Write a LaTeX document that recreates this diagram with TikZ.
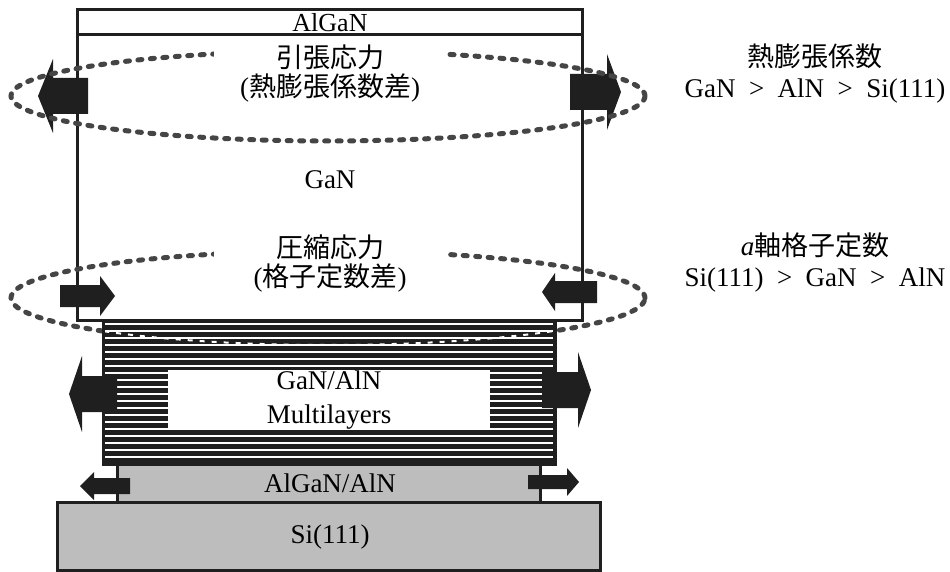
\documentclass[tikz,border=0pt]{standalone}
\usepackage{fontspec}
\setmainfont{Liberation Serif}
\newfontfamily\cjk{Noto Sans CJK JP}
\definecolor{ink}{gray}{0.12}
\definecolor{dotc}{gray}{0.27}
\definecolor{stip}{gray}{0.74}
\newcommand\blockarrow[6]{% tail, base, tip, y, bodyhalf, headhalf
  \fill[ink] (#1,#4-#5) -- (#2,#4-#5) -- (#2,#4-#6) -- (#3,#4) -- (#2,#4+#6) -- (#2,#4+#5) -- (#1,#4+#5) -- cycle;}
\tikzset{
  lab/.style={font=\fontsize{27}{29}\selectfont, inner sep=0pt, align=center},
  gaplab/.style={lab, fill=white, minimum width=232pt, minimum height=64pt},
  rlab/.style={font=\fontsize{27}{31}\selectfont, inner sep=0pt, align=center},
  dots/.style={draw=dotc, line width=5pt, line cap=round, dash pattern=on 4pt off 8.5pt},
  wdots/.style={draw=white, line width=2pt, dash pattern=on 5pt off 7pt},
  frame/.style={draw=ink, line width=3pt},
}
\begin{document}
\begin{tikzpicture}[x=1pt,y=-1pt]
\useasboundingbox (0,0) rectangle (950,572);
% GaN box with AlGaN cap
\draw[frame, fill=white] (77,10) rectangle (582,320);
\draw[frame] (77,35) -- (582,35);
\node[lab, font=\fontsize{26}{28}\selectfont] (algan) at (330,23) {AlGaN};
\node[lab] (gan) at (330,180) {GaN};
% tensile / compressive arrows in GaN
\blockarrow{88}{53}{38}{96}{18}{37}
\blockarrow{570}{607}{621}{92}{18}{38}
\blockarrow{60}{100}{115}{296}{11}{20}
\blockarrow{597}{555}{542}{292}{11}{19}
% stress ellipses
\draw[dots] (328,96) ellipse [x radius=317pt, y radius=45pt];
\draw[dots] (328,298) ellipse [x radius=317pt, y radius=47pt];
\node[gaplab] (tens) at (330,74) {{\cjk 引張応力}\\({\cjk 熱膨張係数差})};
\node[gaplab] (comp) at (330,264) {{\cjk 圧縮応力}\\({\cjk 格子定数差})};
% multilayer
\fill[ink] (103,320) rectangle (555,464);
\foreach \yy in {324,331,...,460} \draw[white, line width=1.4pt] (105,\yy) -- (553,\yy);
\begin{scope}
  \clip (103,324) rectangle (555,464);
  \draw[wdots] (328,298) ellipse [x radius=317pt, y radius=47pt];
\end{scope}
\draw[frame] (103,320) rectangle (555,464);
\node[lab, fill=white, minimum width=322pt, minimum height=60pt, font=\fontsize{27}{34}\selectfont] (ml) at (329,400) {GaN/AlN\\Multilayers};
% AlGaN/AlN buffer and Si substrate
\draw[frame, fill=stip] (117,464) rectangle (540,502);
\draw[frame, fill=stip] (57,502) rectangle (600,570);
\node[lab] (buf) at (330,483) {AlGaN/AlN};
\node[lab] (si) at (330,537) {Si(111)};
% arrows on multilayer and buffer
\blockarrow{117}{82}{69}{394}{18}{38}
\blockarrow{542}{578}{591}{390}{18}{38}
\blockarrow{130}{94}{80}{486}{8}{14}
\blockarrow{528}{567}{579}{482}{7}{14}
% right-hand notes
\node[rlab] (cte) at (815,74) {{\cjk 熱膨張係数}\\GaN\enspace>\enspace AlN\enspace>\enspace Si(111)};
\node[rlab] (lat) at (815,263) {\textit{a}{\cjk 軸格子定数}\\Si(111)\enspace>\enspace GaN\enspace>\enspace AlN};
\end{tikzpicture}
\end{document}
